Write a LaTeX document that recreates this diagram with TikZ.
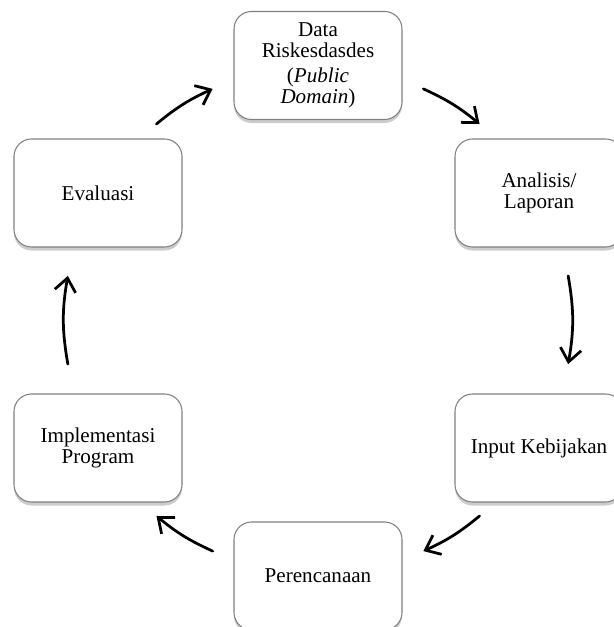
\documentclass[tikz,border=0pt]{standalone}
\usepackage{fontspec}
\setmainfont{Liberation Serif}
\usetikzlibrary{calc,shadows,arrows.meta}

\tikzset{
	kotak/.style={draw=black!50, line width=0.6pt, fill=white, rounded corners=0.35cm,
		minimum width=3.36cm, minimum height=2.16cm, align=center,
		font=\fontsize{12}{12}\selectfont,
		drop shadow={shadow xshift=0pt, shadow yshift=-2pt, opacity=0.4}},
	panah/.style={line width=0.055cm, line cap=round, -{Straight Barb[length=7.5pt,width=12pt]}}
}

\begin{document}
\begin{tikzpicture}
			%%%%% START %%%%%
			
			\useasboundingbox (0, 0) rectangle (12.28, 12.54);
			
			\node[kotak] (data) at (6.36, 11.23) {Data\\Riskesdasdes\\[2.5pt](\textit{Public}\\\textit{Domain})};
			\node[kotak] (analisis) at (10.78, 8.68) {Analisis/\\Laporan};
			\node[kotak] (input) at (10.78, 3.58) {Input Kebijakan};
			\node[kotak] (rencana) at (6.36, 1.02) {Perencanaan};
			\node[kotak] (implementasi) at (1.96, 3.58) {Implementasi\\Program};
			\node[kotak] (evaluasi) at (1.96, 8.68) {Evaluasi};
			
			% titik ujung panah pada lingkaran
			\coordinate (pusat) at (6.36, 6.14);
			\coordinate (e1) at ($(pusat)+(129.5:5.08)$);
			\coordinate (d0) at ($(pusat)+(114.5:5.08)$);
			\coordinate (d1) at ($(pusat)+(65.5:5.08)$);
			\coordinate (a0) at ($(pusat)+(50.5:5.08)$);
			\coordinate (a1) at ($(pusat)+(10:5.08)$);
			\coordinate (i0) at ($(pusat)+(-10:5.08)$);
			\coordinate (i1) at ($(pusat)+(-50.5:5.08)$);
			\coordinate (r0) at ($(pusat)+(-65.5:5.08)$);
			\coordinate (r1) at ($(pusat)+(-114.5:5.08)$);
			\coordinate (m0) at ($(pusat)+(-129.5:5.08)$);
			\coordinate (m1) at ($(pusat)+(190:5.08)$);
			\coordinate (e0) at ($(pusat)+(170:5.08)$);
			
			\draw[panah] (e1) to[bend left=7.5] (d0);
			\draw[panah] (d1) to[bend left=7.5] (a0);
			\draw[panah] (a1) to[bend left=10] (i0);
			\draw[panah] (i1) to[bend left=7.5] (r0);
			\draw[panah] (r1) to[bend left=7.5] (m0);
			\draw[panah] (m1) to[bend left=10] (e0);
			
			%%%%% END %%%%%
\end{tikzpicture}
\end{document}
